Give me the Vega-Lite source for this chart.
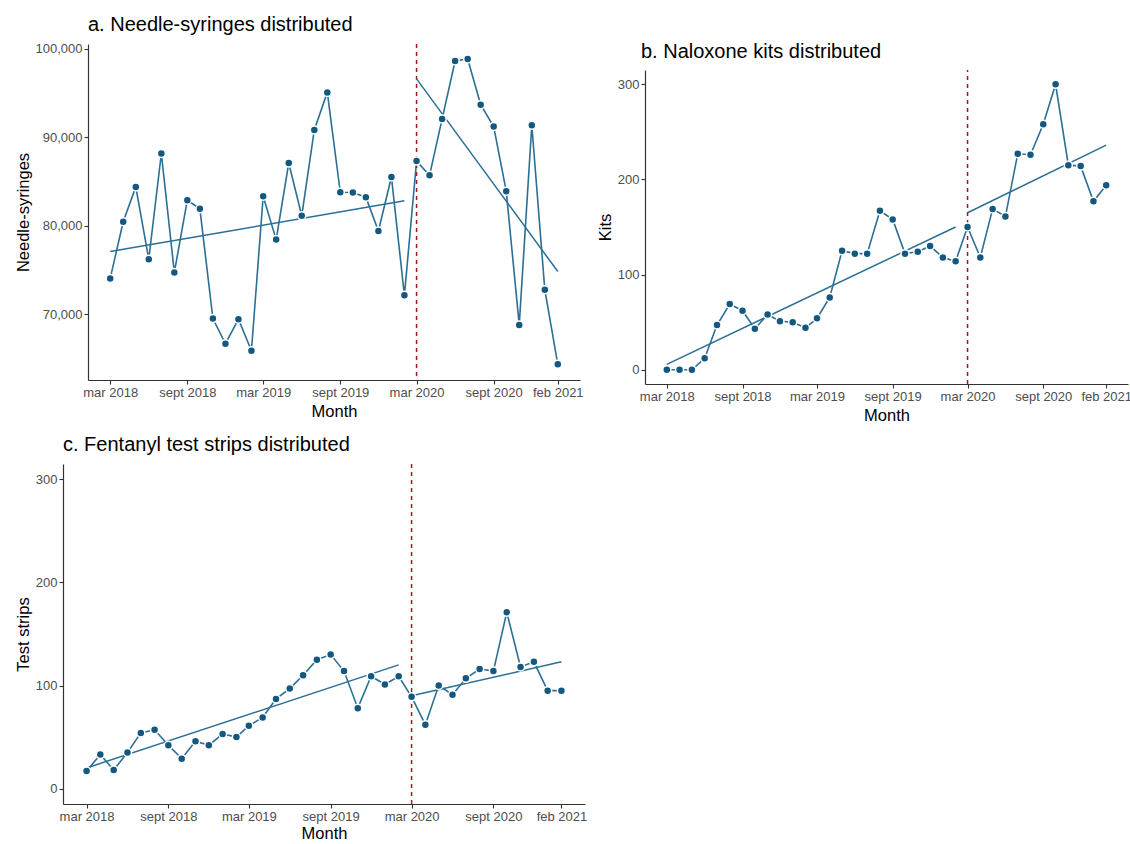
{
  "$schema": "https://vega.github.io/schema/vega-lite/v6.json",
  "padding": {"top": 14, "left": 15, "right": 2, "bottom": 0},
  "background": "white",
  "datasets": {
    "needles": [
      {"month": "2018-03-01", "value": 74050}, {"month": "2018-04-01", "value": 80450}, {"month": "2018-05-01", "value": 84380},
      {"month": "2018-06-01", "value": 76220}, {"month": "2018-07-01", "value": 88160}, {"month": "2018-08-01", "value": 74720},
      {"month": "2018-09-01", "value": 82880}, {"month": "2018-10-01", "value": 81910}, {"month": "2018-11-01", "value": 69510},
      {"month": "2018-12-01", "value": 66670}, {"month": "2019-01-01", "value": 69440}, {"month": "2019-02-01", "value": 65880},
      {"month": "2019-03-01", "value": 83330}, {"month": "2019-04-01", "value": 78430}, {"month": "2019-05-01", "value": 87080},
      {"month": "2019-06-01", "value": 81120}, {"month": "2019-07-01", "value": 90820}, {"month": "2019-08-01", "value": 95060},
      {"month": "2019-09-01", "value": 83780}, {"month": "2019-10-01", "value": 83750}, {"month": "2019-11-01", "value": 83220},
      {"month": "2019-12-01", "value": 79400}, {"month": "2020-01-01", "value": 85510}, {"month": "2020-02-01", "value": 72140},
      {"month": "2020-03-01", "value": 87300}, {"month": "2020-04-01", "value": 85690}, {"month": "2020-05-01", "value": 92060},
      {"month": "2020-06-01", "value": 98610}, {"month": "2020-07-01", "value": 98840}, {"month": "2020-08-01", "value": 93670},
      {"month": "2020-09-01", "value": 91200}, {"month": "2020-10-01", "value": 83900}, {"month": "2020-11-01", "value": 68800},
      {"month": "2020-12-01", "value": 91350}, {"month": "2021-01-01", "value": 72770}, {"month": "2021-02-01", "value": 64350}
    ],
    "needlesTrend": [
      {"month": "2018-03-01", "value": 77080, "period": "pre"}, {"month": "2020-02-01", "value": 82810, "period": "pre"},
      {"month": "2020-03-01", "value": 96590, "period": "post"}, {"month": "2021-02-01", "value": 74830, "period": "post"}
    ],
    "naloxone": [
      {"month": "2018-03-01", "value": 0}, {"month": "2018-04-01", "value": 0}, {"month": "2018-05-01", "value": 0},
      {"month": "2018-06-01", "value": 12}, {"month": "2018-07-01", "value": 47}, {"month": "2018-08-01", "value": 69},
      {"month": "2018-09-01", "value": 62}, {"month": "2018-10-01", "value": 43}, {"month": "2018-11-01", "value": 58},
      {"month": "2018-12-01", "value": 51}, {"month": "2019-01-01", "value": 50}, {"month": "2019-02-01", "value": 44},
      {"month": "2019-03-01", "value": 54}, {"month": "2019-04-01", "value": 76}, {"month": "2019-05-01", "value": 125},
      {"month": "2019-06-01", "value": 122}, {"month": "2019-07-01", "value": 122}, {"month": "2019-08-01", "value": 167},
      {"month": "2019-09-01", "value": 158}, {"month": "2019-10-01", "value": 122}, {"month": "2019-11-01", "value": 124},
      {"month": "2019-12-01", "value": 130}, {"month": "2020-01-01", "value": 118}, {"month": "2020-02-01", "value": 114},
      {"month": "2020-03-01", "value": 150}, {"month": "2020-04-01", "value": 118}, {"month": "2020-05-01", "value": 169},
      {"month": "2020-06-01", "value": 161}, {"month": "2020-07-01", "value": 227}, {"month": "2020-08-01", "value": 226},
      {"month": "2020-09-01", "value": 258}, {"month": "2020-10-01", "value": 300}, {"month": "2020-11-01", "value": 215},
      {"month": "2020-12-01", "value": 214}, {"month": "2021-01-01", "value": 177}, {"month": "2021-02-01", "value": 194}
    ],
    "naloxoneTrend": [
      {"month": "2018-03-01", "value": 5.6, "period": "pre"}, {"month": "2020-02-01", "value": 150, "period": "pre"},
      {"month": "2020-03-01", "value": 165, "period": "post"}, {"month": "2021-02-01", "value": 236, "period": "post"}
    ],
    "strips": [
      {"month": "2018-03-01", "value": 17}, {"month": "2018-04-01", "value": 33}, {"month": "2018-05-01", "value": 18},
      {"month": "2018-06-01", "value": 35}, {"month": "2018-07-01", "value": 54}, {"month": "2018-08-01", "value": 57},
      {"month": "2018-09-01", "value": 42}, {"month": "2018-10-01", "value": 29}, {"month": "2018-11-01", "value": 46},
      {"month": "2018-12-01", "value": 42}, {"month": "2019-01-01", "value": 53}, {"month": "2019-02-01", "value": 50},
      {"month": "2019-03-01", "value": 61}, {"month": "2019-04-01", "value": 69}, {"month": "2019-05-01", "value": 87},
      {"month": "2019-06-01", "value": 97}, {"month": "2019-07-01", "value": 110}, {"month": "2019-08-01", "value": 125},
      {"month": "2019-09-01", "value": 130}, {"month": "2019-10-01", "value": 114}, {"month": "2019-11-01", "value": 78},
      {"month": "2019-12-01", "value": 109}, {"month": "2020-01-01", "value": 101}, {"month": "2020-02-01", "value": 109},
      {"month": "2020-03-01", "value": 89}, {"month": "2020-04-01", "value": 62}, {"month": "2020-05-01", "value": 100},
      {"month": "2020-06-01", "value": 91}, {"month": "2020-07-01", "value": 107}, {"month": "2020-08-01", "value": 116},
      {"month": "2020-09-01", "value": 114}, {"month": "2020-10-01", "value": 171}, {"month": "2020-11-01", "value": 118},
      {"month": "2020-12-01", "value": 123}, {"month": "2021-01-01", "value": 95}, {"month": "2021-02-01", "value": 95}
    ],
    "stripsTrend": [
      {"month": "2018-03-01", "value": 20, "period": "pre"}, {"month": "2020-02-01", "value": 120, "period": "pre"},
      {"month": "2020-03-01", "value": 90, "period": "post"}, {"month": "2021-02-01", "value": 123, "period": "post"}
    ],
    "cutoff": [{"month": "2020-03-01"}]
  },
  "vconcat": [
    {
      "spacing": 13,
      "hconcat": [
        {
          "title": {"text": "a. Needle-syringes distributed"},
          "width": 492,
          "height": 336,
          "layer": [
            {
              "data": {"name": "needles"},
              "mark": {"type": "line", "color": "#2b6f94", "strokeWidth": 1.6},
              "encoding": {
                "x": {"field": "month", "type": "temporal",
                  "scale": {"type": "utc", "nice": false, "domain": [{"year": 2018, "month": 1, "date": 7, "utc": true}, {"year": 2021, "month": 3, "date": 26, "utc": true}]},
                  "axis": {"title": "Month",
                    "values": [{"year": 2018, "month": 3, "date": 1, "utc": true}, {"year": 2018, "month": 9, "date": 1, "utc": true}, {"year": 2019, "month": 3, "date": 1, "utc": true}, {"year": 2019, "month": 9, "date": 1, "utc": true}, {"year": 2020, "month": 3, "date": 1, "utc": true}, {"year": 2020, "month": 9, "date": 1, "utc": true}, {"year": 2021, "month": 2, "date": 1, "utc": true}],
                    "labelExpr": "replace(lower(utcFormat(datum.value, '%b %Y')), 'sep ', 'sept ')"}},
                "y": {"field": "value", "type": "quantitative",
                  "scale": {"domain": [62575, 100525], "nice": false, "zero": false},
                  "axis": {"title": "Needle-syringes", "values": [70000, 80000, 90000, 100000], "format": ",d"}}
              }
            },
            {
              "data": {"name": "cutoff"},
              "mark": {"type": "rule", "color": "#a3191c", "strokeDash": [4, 4], "strokeWidth": 1.5},
              "encoding": {"x": {"field": "month", "type": "temporal"}}
            },
            {
              "data": {"name": "needlesTrend"},
              "mark": {"type": "line", "color": "#2b6f94", "strokeWidth": 1.5},
              "encoding": {
                "x": {"field": "month", "type": "temporal"},
                "y": {"field": "value", "type": "quantitative"},
                "detail": {"field": "period"}
              }
            },
            {
              "data": {"name": "needles"},
              "mark": {"type": "point", "filled": true, "color": "#14587f", "opacity": 1, "size": 64, "stroke": "white", "strokeWidth": 1.5},
              "encoding": {
                "x": {"field": "month", "type": "temporal"},
                "y": {"field": "value", "type": "quantitative"}
              }
            }
          ]
        },
        {
          "title": {"text": "b. Naloxone kits distributed", "dy": 26, "dx": -4},
          "width": 483,
          "height": 340,
          "layer": [
            {
              "data": {"name": "naloxone"},
              "mark": {"type": "line", "color": "#2b6f94", "strokeWidth": 1.6},
              "encoding": {
                "x": {"field": "month", "type": "temporal",
                  "scale": {"type": "utc", "nice": false, "domain": [{"year": 2018, "month": 1, "date": 7, "utc": true}, {"year": 2021, "month": 3, "date": 26, "utc": true}]},
                  "axis": {"title": "Month",
                    "values": [{"year": 2018, "month": 3, "date": 1, "utc": true}, {"year": 2018, "month": 9, "date": 1, "utc": true}, {"year": 2019, "month": 3, "date": 1, "utc": true}, {"year": 2019, "month": 9, "date": 1, "utc": true}, {"year": 2020, "month": 3, "date": 1, "utc": true}, {"year": 2020, "month": 9, "date": 1, "utc": true}, {"year": 2021, "month": 2, "date": 1, "utc": true}],
                    "labelExpr": "replace(lower(utcFormat(datum.value, '%b %Y')), 'sep ', 'sept ')"}},
                "y": {"field": "value", "type": "quantitative",
                  "scale": {"domain": [-15, 315], "nice": false, "zero": false, "range": [340, 26]},
                  "axis": {"title": "Kits", "values": [0, 100, 200, 300]}}
              }
            },
            {
              "data": {"name": "cutoff"},
              "mark": {"type": "rule", "color": "#a3191c", "strokeDash": [4, 4], "strokeWidth": 1.5},
              "encoding": {
                "x": {"field": "month", "type": "temporal"},
                "y": {"datum": -15, "type": "quantitative"},
                "y2": {"datum": 315}
              }
            },
            {
              "data": {"name": "naloxoneTrend"},
              "mark": {"type": "line", "color": "#2b6f94", "strokeWidth": 1.5},
              "encoding": {
                "x": {"field": "month", "type": "temporal"},
                "y": {"field": "value", "type": "quantitative"},
                "detail": {"field": "period"}
              }
            },
            {
              "data": {"name": "naloxone"},
              "mark": {"type": "point", "filled": true, "color": "#14587f", "opacity": 1, "size": 64, "stroke": "white", "strokeWidth": 1.5},
              "encoding": {
                "x": {"field": "month", "type": "temporal"},
                "y": {"field": "value", "type": "quantitative"}
              }
            }
          ]
        }
      ]
    },
    {
      "title": {"text": "c. Fentanyl test strips distributed", "dx": -25},
      "width": 497,
      "height": 340,
      "layer": [
        {
          "data": {"name": "strips"},
          "mark": {"type": "line", "color": "#2b6f94", "strokeWidth": 1.6},
          "encoding": {
            "x": {"field": "month", "type": "temporal",
              "scale": {"type": "utc", "nice": false, "range": [-25, 497], "domain": [{"year": 2018, "month": 1, "date": 7, "utc": true}, {"year": 2021, "month": 3, "date": 26, "utc": true}]},
              "axis": {"title": "Month", "titlePadding": 2,
                "values": [{"year": 2018, "month": 3, "date": 1, "utc": true}, {"year": 2018, "month": 9, "date": 1, "utc": true}, {"year": 2019, "month": 3, "date": 1, "utc": true}, {"year": 2019, "month": 9, "date": 1, "utc": true}, {"year": 2020, "month": 3, "date": 1, "utc": true}, {"year": 2020, "month": 9, "date": 1, "utc": true}, {"year": 2021, "month": 2, "date": 1, "utc": true}],
                "labelExpr": "replace(lower(utcFormat(datum.value, '%b %Y')), 'sep ', 'sept ')"}},
            "y": {"field": "value", "type": "quantitative",
              "scale": {"domain": [-15, 315], "nice": false, "zero": false},
              "axis": {"title": "Test strips", "values": [0, 100, 200, 300], "offset": 25}}
          }
        },
        {
          "data": {"name": "cutoff"},
          "mark": {"type": "rule", "color": "#a3191c", "strokeDash": [4, 4], "strokeWidth": 1.5},
          "encoding": {"x": {"field": "month", "type": "temporal"}}
        },
        {
          "data": {"name": "stripsTrend"},
          "mark": {"type": "line", "color": "#2b6f94", "strokeWidth": 1.5},
          "encoding": {
            "x": {"field": "month", "type": "temporal"},
            "y": {"field": "value", "type": "quantitative"},
            "detail": {"field": "period"}
          }
        },
        {
          "data": {"name": "strips"},
          "mark": {"type": "point", "filled": true, "color": "#14587f", "opacity": 1, "size": 64, "stroke": "white", "strokeWidth": 1.5},
          "encoding": {
            "x": {"field": "month", "type": "temporal"},
            "y": {"field": "value", "type": "quantitative"}
          }
        }
      ]
    }
  ],
  "spacing": 11,
  "resolve": {"scale": {"x": "independent", "y": "independent"}},
  "config": {
    "font": "Liberation Sans",
    "view": {"stroke": null},
    "title": {"fontSize": 20, "fontWeight": "normal", "color": "#000000", "anchor": "start", "frame": "group", "offset": 8},
    "axis": {
      "grid": false,
      "domainColor": "#333333",
      "domainWidth": 1.2,
      "tickColor": "#333333",
      "tickWidth": 1.1,
      "tickSize": 4,
      "labelColor": "#4d4d4d",
      "labelFontSize": 13,
      "labelPadding": 2,
      "titleFontSize": 16.5,
      "titleFontWeight": "normal",
      "titleColor": "#000000",
      "titlePadding": 4
    }
  }
}
